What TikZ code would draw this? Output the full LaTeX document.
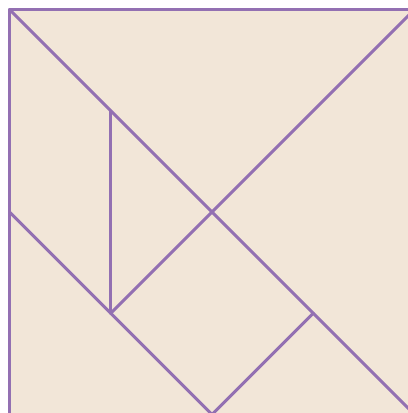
\documentclass[tikz,border=0pt]{standalone}
\usepackage{xcolor}
\definecolor{tanline}{RGB}{147,112,178}
\definecolor{tanfill}{RGB}{242,230,216}
\tikzset{
  edge/.style={draw=tanline,line width=3pt,line cap=round,line join=round},
  board/.style={fill=tanfill}
}
\begin{document}
\begin{tikzpicture}[x=101.25pt,y=-101.25pt]
\useasboundingbox (-0.0938,-0.0938) rectangle (3.9358,3.9852);
\clip (-0.0938,-0.0938) rectangle (3.9358,3.9852);
% corners and cut points of the square
\coordinate (tl) at (0,0); \coordinate (tr) at (4,0);
\coordinate (br) at (4,4); \coordinate (bl) at (0,4);
\coordinate (c) at (2,2); \coordinate (lm) at (0,2);
\coordinate (bm) at (2,4); \coordinate (q) at (3,3);
\coordinate (p1) at (1,1); \coordinate (p3) at (1,3);
\fill[board] (tl) rectangle (br);
\draw[edge] (bl) -- (tl) -- (tr) -- (br) -- cycle;
\draw[edge] (tl) -- (br);
\draw[edge] (tr) -- (c) -- (p3);
\draw[edge] (p1) -- (p3);
\draw[edge] (lm) -- (bm) -- (q);
\end{tikzpicture}
\end{document}
